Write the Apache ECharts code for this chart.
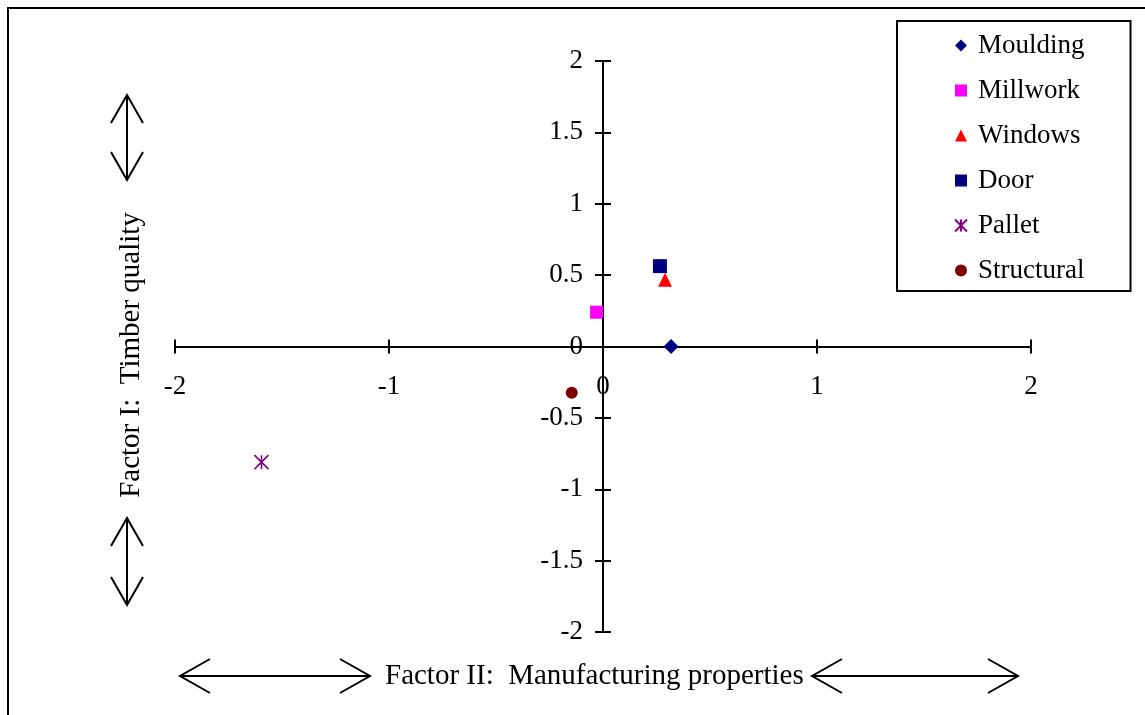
<!DOCTYPE html>
<html>
<head>
<meta charset="utf-8">
<script src="https://cdn.jsdelivr.net/npm/echarts@6/dist/echarts.min.js"></script>
<style>
html, body { margin: 0; padding: 0; background: #fff; }
#main { width: 1145px; height: 715px; }
</style>
</head>
<body>
<div id="main"></div>
<script>
// product groups and their factor scores
var names = ['Moulding', 'Millwork', 'Windows', 'Door', 'Pallet', 'Structural'];
var factorII = [0.318, -0.03, 0.29, 0.266, -1.596, -0.146];  // x
var factorI = [0, 0.24, 0.467, 0.563, -0.81, -0.324];        // y

var serif = 'Liberation Serif';

var markers = {
    Moulding: { symbol: 'diamond', size: 15, color: '#000080' },
    Millwork: { symbol: 'rect', size: 13, color: '#FF00FF' },
    Windows: { symbol: 'triangle', size: 14, color: '#FF0000' },
    Door: { symbol: 'rect', size: 14, color: '#000080' },
    Pallet: { symbol: 'path://M0,0L10,10M10,0L0,10M5,0L5,10', size: 14, color: '#800080', stroke: true },
    Structural: { symbol: 'circle', size: 12, color: '#800000' }
};

var series = names.map(function (n, i) {
    var m = markers[n];
    var style = m.stroke
        ? { color: 'rgba(0,0,0,0)', borderColor: m.color, borderWidth: 1.6, opacity: 1 }
        : { color: m.color, opacity: 1 };
    return {
        name: n,
        type: 'scatter',
        symbol: m.symbol,
        symbolSize: m.size,
        itemStyle: style,
        data: [[factorII[i], factorI[i]]]
    };
});

// axes are shifted onto the zero lines with offset (grid is 572 tall, 856 wide)
function xAxisOf(inside) {
    return {
        type: 'value', min: -2, max: 2, interval: 1, position: 'bottom', offset: -285.5,
        axisLine: { onZero: false, lineStyle: { color: '#000', width: 2 } },
        axisTick: { inside: inside, length: 7, lineStyle: { color: '#000', width: 2 } },
        axisLabel: { show: !inside, margin: 27, fontSize: 27, fontFamily: serif, color: '#000' },
        splitLine: { show: false }
    };
}
function yAxisOf(inside) {
    return {
        type: 'value', min: -2, max: 2, interval: 0.5, position: 'left', offset: -428,
        axisLine: { onZero: false, lineStyle: { color: '#000', width: 2 } },
        axisTick: { inside: inside, length: 8, lineStyle: { color: '#000', width: 2 } },
        axisLabel: { show: !inside, margin: 20, fontSize: 27, fontFamily: serif, color: '#000' },
        splitLine: { show: false }
    };
}

function arrow(pts) {
    return { type: 'polyline', shape: { points: pts }, style: { fill: 'none', stroke: '#000', lineWidth: 2 } };
}
function vArrow(x, y1, y2) {
    var h = 28, w = 16;
    return [
        arrow([[x, y1], [x, y2]]),
        arrow([[x - w, y1 + h], [x, y1], [x + w, y1 + h]]),
        arrow([[x - w, y2 - h], [x, y2], [x + w, y2 - h]])
    ];
}
function hArrow(y, x1, x2) {
    var h = 30, w = 17;
    return [
        arrow([[x1, y], [x2, y]]),
        arrow([[x1 + h, y - w], [x1, y], [x1 + h, y + w]]),
        arrow([[x2 - h, y - w], [x2, y], [x2 - h, y + w]])
    ];
}

var graphics = [
    { type: 'rect', shape: { x: 8, y: 8, width: 1300, height: 900 }, style: { fill: 'none', stroke: '#000', lineWidth: 2 } },
    {
        type: 'text', x: 131, y: 355, rotation: Math.PI / 2,
        style: { text: 'Factor I:  Timber quality', fontSize: 29, fontFamily: serif, fill: '#000', align: 'center', verticalAlign: 'middle' }
    },
    {
        type: 'text', x: 385, y: 676,
        style: { text: 'Factor II:  Manufacturing properties', fontSize: 29, fontFamily: serif, fill: '#000', align: 'left', verticalAlign: 'middle' }
    }
].concat(vArrow(127, 95, 180), vArrow(127, 518, 605), hArrow(676, 180, 370), hArrow(676, 812, 1018));

var chart = echarts.init(document.getElementById('main'));
chart.setOption({
    animation: false,
    backgroundColor: '#fff',
    grid: { left: 175, right: 114, top: 61, bottom: 83, containLabel: false },
    xAxis: [xAxisOf(false), xAxisOf(true)],
    yAxis: [yAxisOf(false), yAxisOf(true)],
    legend: {
        orient: 'vertical', left: 897, top: 21,
        data: names,
        itemWidth: 12, itemHeight: 12, itemGap: 18,
        padding: [11, 46, 7, 57],
        borderColor: '#000', borderWidth: 2,
        textStyle: { fontSize: 27, fontFamily: serif, color: '#000', padding: [0, 0, 0, 6] }
    },
    graphic: graphics,
    series: series
});
</script>
</body>
</html>
